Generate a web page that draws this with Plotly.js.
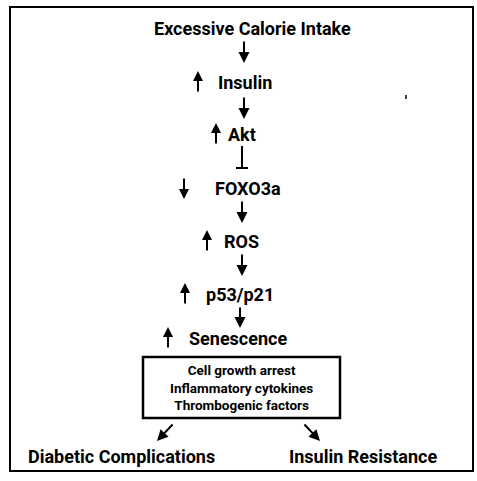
<!DOCTYPE html>
<html><head><meta charset="utf-8">
<script src="https://cdn.plot.ly/plotly-3.0.1.min.js"></script>
<style>html,body{margin:0;padding:0;background:#fff}</style>
</head><body>
<div id="chart" style="width:477px;height:481px"></div>
<script>
// ---- content ----
const nodes = ["Excessive Calorie Intake", "Insulin", "Akt", "FOXO3a", "ROS", "p53/p21", "Senescence"];
const changes = ["", "up", "up", "down", "up", "up", "up"];
const links = ["activates", "activates", "inhibits", "activates", "activates", "activates"];
const effects = ["Cell growth arrest", "Inflammatory cytokines", "Thrombogenic factors"];
const outcomes = ["Diabetic Complications", "Insulin Resistance"];

// ---- layout (pixel space) ----
const FONT = "Roboto, 'Liberation Sans', sans-serif";
const nodeY = [28, 82, 134, 188, 241, 294, 338];
const nodeX = [252, 245, 242, 248, 241, 240, 238];
const glyphX = [0, 198, 216, 184, 207, 185, 168];
const linkX = [244, 244, 242, 242, 242, 240];
const linkTop = [40, 96, 146, 200, 253, 306];
const linkBot = [63, 119, 168, 223, 276, 328];
const outX = [121, 363];
const outY = 456;

const annotations = [];
const shapes = [];

function arrow(x0, y0, x1, y1, size) {
  annotations.push({x: x1, y: y1, ax: x0, ay: y0, axref: 'x', ayref: 'y', xref: 'x', yref: 'y',
    text: '', showarrow: true, arrowhead: 2, arrowsize: size || 1.1, arrowwidth: 2, arrowcolor: '#000'});
}

nodes.forEach((n, i) => {
  annotations.push({x: nodeX[i], y: nodeY[i], text: '<b>' + n + '</b>', showarrow: false,
    font: {family: FONT, size: 18, color: '#000'}, xanchor: 'center', yanchor: 'middle'});
  if (changes[i] === 'up') arrow(glyphX[i], nodeY[i] + 11, glyphX[i], nodeY[i] - 11, 1.0);
  if (changes[i] === 'down') arrow(glyphX[i], nodeY[i] - 11, glyphX[i], nodeY[i] + 11, 1.0);
});

links.forEach((t, i) => {
  if (t === 'activates') {
    arrow(linkX[i], linkTop[i], linkX[i], linkBot[i], 1.1);
  } else {
    shapes.push({type: 'line', x0: linkX[i], x1: linkX[i], y0: linkTop[i], y1: linkBot[i], line: {color: '#000', width: 2}});
    shapes.push({type: 'line', x0: linkX[i] - 6, x1: linkX[i] + 6, y0: linkBot[i], y1: linkBot[i], line: {color: '#000', width: 2}});
  }
});

// effects box (one multi-line text)
annotations.push({x: 241, y: 387.5, text: effects.map(e => '<b>' + e + '</b>').join('<br>'), showarrow: false,
  font: {family: FONT, size: 13.5, color: '#000'}, xanchor: 'center', yanchor: 'middle', align: 'center', borderpad: 0});
shapes.push({type: 'rect', x0: 143, x1: 340, y0: 357, y1: 418, line: {color: '#000', width: 2.5}});

// diagonal arrows to outcomes
arrow(174, 423, 157, 441, 1.1);
arrow(303, 423, 320, 441, 1.1);

outcomes.forEach((o, i) => {
  annotations.push({x: outX[i], y: outY, text: '<b>' + o + '</b>', showarrow: false,
    font: {family: FONT, size: 18, color: '#000'}, xanchor: 'center', yanchor: 'middle'});
});

// outer frame
shapes.push({type: 'rect', x0: 10, x1: 473, y0: 7, y1: 471, line: {color: '#000', width: 2}});
// small speck
shapes.push({type: 'line', x0: 406, x1: 406, y0: 95, y1: 99, line: {color: '#000', width: 1.5}});

Plotly.newPlot('chart', [], {
  width: 477, height: 481,
  margin: {l: 0, r: 0, t: 0, b: 0},
  paper_bgcolor: '#fff', plot_bgcolor: '#fff',
  xaxis: {range: [0, 477], visible: false, fixedrange: true},
  yaxis: {range: [481, 0], visible: false, fixedrange: true},
  showlegend: false,
  annotations: annotations,
  shapes: shapes
}, {staticPlot: true});
</script>
</body></html>
